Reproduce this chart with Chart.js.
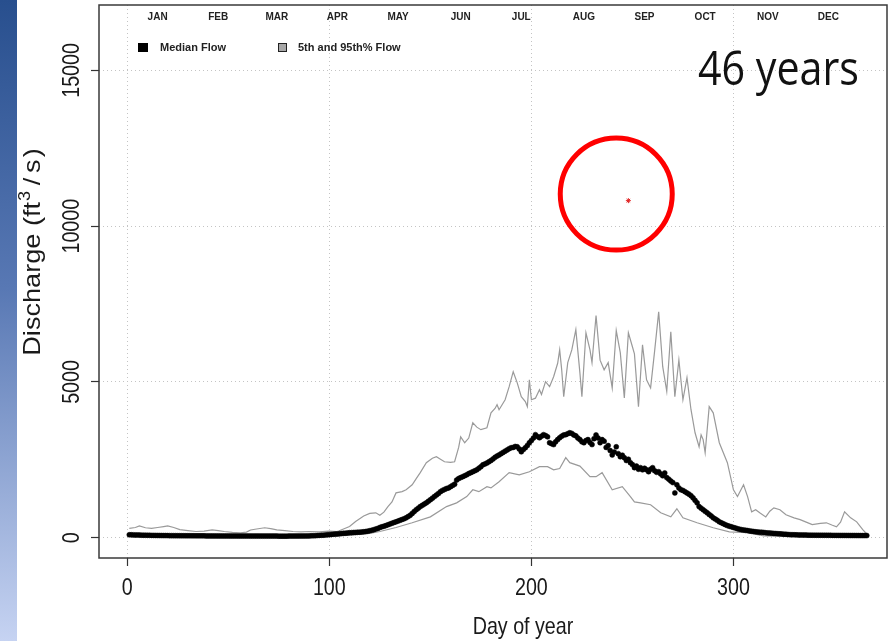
<!DOCTYPE html>
<html lang="en">
<head>
  <meta charset="UTF-8" />
  <title>Daily discharge - 46 years</title>
  <script src="https://cdn.jsdelivr.net/npm/chart.js@4"></script>
  <style>
    html, body { margin: 0; padding: 0; background: #fff; }
    #wrap { width: 896px; height: 641px; }
  </style>
</head>
<body>
<div id="wrap"><canvas id="flowChart" width="896" height="641"></canvas></div>
<script>
// ---- data ----
const monthLabels = ['JAN','FEB','MAR','APR','MAY','JUN','JUL','AUG','SEP','OCT','NOV','DEC'];
const monthMidDays = [15, 45, 74, 104, 134, 165, 195, 226, 256, 286, 317, 347];

const xTickValues = [0, 100, 200, 300];
const yTickValues = [0, 5000, 10000, 15000];

// median flow, one value per day starting at day 1
const firstDay = 1;
const medianFlow = [
  95,94,92,90,88,86,84,82,80,78,77,76,75,74,73,72,71,70,70,69,68,68,67,67,66,66,65,65,64,64,64,
  63,63,62,62,62,61,61,60,60,60,59,59,59,58,58,58,57,57,57,56,56,56,56,55,55,55,55,55,
  55,54,54,54,54,54,53,53,53,53,53,53,53,53,53,52,52,52,52,52,53,53,53,54,54,55,55,56,57,58,60,
  62,65,68,72,76,80,84,88,94,100,106,112,118,124,130,136,142,148,154,160,164,168,172,176,180,185,190,200,212,225,
  240,258,278,300,330,350,370,390,415,440,465,490,510,535,560,585,610,640,680,720,780,840,900,950,1000,1040,1080,1120,1170,1220,1270,
  1320,1370,1420,1480,1520,1550,1580,1600,1640,1680,1720,1850,1900,1930,1960,1990,2020,2060,2090,2120,2150,2180,2230,2280,2340,2370,2400,2440,2480,2530,
  2580,2620,2660,2700,2740,2780,2820,2860,2890,2900,2930,2920,2850,2760,2830,2890,2960,3050,3120,3200,3310,3250,3210,3260,3310,3280,3240,3050,3020,2990,3080,
  3150,3210,3260,3300,3310,3340,3370,3350,3300,3270,3200,3150,3080,3050,3120,3150,3060,2990,3180,3300,3200,3050,3150,3100,2900,2960,2800,2660,2750,2920,2700,
  2600,2650,2570,2480,2520,2410,2350,2250,2300,2200,2250,2180,2230,2180,2120,2200,2250,2150,2100,2120,2050,1990,2080,1930,1880,1820,1770,1440,1700,1600,
  1540,1520,1480,1440,1400,1350,1280,1200,1120,1000,950,900,850,800,750,700,640,600,560,510,480,450,420,390,370,350,330,310,290,275,260,
  250,240,230,220,210,200,190,185,180,175,170,160,155,150,145,140,135,130,125,120,115,110,105,100,98,96,94,92,90,88,
  86,85,84,83,82,81,80,80,79,79,78,78,77,77,76,76,75,75,74,74,74,73,73,72,72,72,71,71,70,70,70,70
];

// 95th percentile flow
const p95Days = [1,4,6,9,12,15,18,20,23,26,30,34,38,42,45,48,52,56,59,61,64,68,71,74,78,82,86,90,95,100,104,107,110,113,117,120,123,125,127,129,131,133,136,138,141,143,145,148,151,153,155,157,160,162,164,165,167,169,171,173,175,178,180,182,183,184,187,189,191,193,195,197,198,199,200,202,204,205,207,209,211,213,214,215,216,218,220,222,224,225,227,229,230,232,234,236,238,240,242,244,246,248,250,251,253,255,257,259,261,263,265,267,269,271,273,275,277,279,281,283,284,285,286,288,290,293,297,300,302,305,307,309,311,313,316,318,320,323,326,330,333,336,339,343,346,349,351,353,355,358,361,364,366];
const p95Flow = [300,330,380,320,300,330,360,380,330,260,230,200,210,250,230,200,170,160,180,250,280,320,290,250,230,200,190,200,190,210,200,280,360,520,700,780,800,720,820,1000,1150,1440,1480,1540,1700,1900,2090,2410,2550,2600,2520,2440,2420,2440,2900,3240,3050,3200,3690,3550,3470,3530,4010,4150,4270,4110,4430,4850,5330,4970,4530,4370,4210,5070,4430,4480,4750,4600,5010,4850,5170,5600,6030,5390,4530,5620,6030,6680,5300,4530,6580,6030,5620,7130,5700,5390,5620,4810,6650,5940,4490,6580,6130,5900,4210,6190,5070,4810,6000,7250,5490,4700,6610,4530,5710,4430,5140,4110,3370,2920,3300,3150,2730,4210,4010,3050,2410,1540,1320,1700,1320,830,900,800,670,850,960,900,740,640,580,500,420,460,480,400,350,500,830,640,510,260,120];

// 5th percentile flow
const p5Days = [1,10,20,30,40,50,60,70,80,90,100,110,120,125,133,141,150,158,163,168,171,174,178,180,184,189,194,199,204,208,211,214,217,219,224,229,232,235,240,245,249,251,254,259,264,269,272,275,282,290,298,307,315,330,345,366];
const p5Flow = [40,42,40,38,36,34,32,30,30,32,45,80,140,200,330,480,670,1000,1120,1320,1540,1480,1640,1600,1800,2090,2020,2120,2280,2280,2180,2220,2570,2410,2300,1960,1960,2090,1540,1640,1320,1150,1120,1060,800,670,930,640,480,320,190,160,60,40,35,30];

// lone value flagged on the chart
const outlierDay = [248];
const outlierFlow = [10820];
const highlightDay = 242, highlightFlow = 11030;

// ---- helpers ----
const AXIS_FONT = '"Liberation Sans", Arial, sans-serif';
const SQUEEZE = 0.82;

function drawText(ctx, str, x, y, o) {
  ctx.save();
  ctx.translate(x, y);
  if (o.rotate) ctx.rotate(-Math.PI / 2);
  ctx.scale(o.squeeze || 1, 1);
  ctx.font = o.font;
  ctx.fillStyle = o.color || '#1a1a1a';
  ctx.textAlign = o.align || 'center';
  ctx.textBaseline = o.baseline || 'middle';
  ctx.fillText(str, 0, 0);
  ctx.restore();
}

// y title drawn piece by piece so the superscript sits right
function drawYTitle(ctx, cx, cy) {
  const big = '24px ' + AXIS_FONT, small = '16px ' + AXIS_FONT;
  const parts = [
    { t: 'Discharge (ft', f: big, dy: 0, gap: 1 },
    { t: '3', f: small, dy: -7, gap: 5 },
    { t: '/', f: big, dy: 0, gap: 4 },
    { t: 's', f: big, dy: 0, gap: 2 },
    { t: ')', f: big, dy: 0, gap: 0 }
  ];
  ctx.save();
  ctx.translate(cx, cy);
  ctx.rotate(-Math.PI / 2);
  ctx.scale(1.13, 1);
  ctx.fillStyle = '#1a1a1a';
  ctx.textBaseline = 'middle';
  ctx.textAlign = 'left';
  let total = 0;
  parts.forEach(p => { ctx.font = p.f; p.w = ctx.measureText(p.t).width; total += p.w + p.gap; });
  let pos = -total / 2;
  parts.forEach(p => { ctx.font = p.f; ctx.fillText(p.t, pos, p.dy); pos += p.w + p.gap; });
  ctx.restore();
}

const decorations = {
  id: 'decorations',
  beforeDraw(chart) {
    const ctx = chart.ctx;
    // slide stripe at the left edge
    const g = ctx.createLinearGradient(0, 0, 0, chart.height);
    g.addColorStop(0, '#284f8e');
    g.addColorStop(0.45, '#5878b4');
    g.addColorStop(1, '#c6d3f2');
    ctx.fillStyle = g;
    ctx.fillRect(0, 0, 17, chart.height);
  },
  afterDraw(chart) {
    const ctx = chart.ctx;
    const area = chart.chartArea;
    const xs = chart.scales.x, ys = chart.scales.y;
    const axisFont = '24px ' + AXIS_FONT;

    // box
    ctx.save();
    ctx.strokeStyle = '#3a3a3a';
    ctx.lineWidth = 1.5;
    ctx.strokeRect(area.left, area.top, area.right - area.left, area.bottom - area.top);
    ctx.restore();

    // tick labels
    xs.ticks.forEach(t => drawText(ctx, String(t.value), xs.getPixelForValue(t.value), 588,
      { font: axisFont, squeeze: SQUEEZE }));
    ys.ticks.forEach(t => drawText(ctx, String(t.value), 72, ys.getPixelForValue(t.value),
      { font: axisFont, squeeze: SQUEEZE, rotate: true }));

    // axis titles
    drawText(ctx, 'Day of year', 523, 627, { font: axisFont, squeeze: SQUEEZE });
    drawYTitle(ctx, 33, 252);

    // month labels inside the top of the plot
    monthLabels.forEach((m, i) => drawText(ctx, m, xs.getPixelForValue(monthMidDays[i]), 17,
      { font: 'bold 10px ' + AXIS_FONT, color: '#222' }));

    // legend
    ctx.save();
    ctx.fillStyle = '#000';
    ctx.fillRect(138, 43, 10, 9);
    ctx.fillStyle = '#a8a8a8';
    ctx.fillRect(278, 43, 9, 9);
    ctx.strokeStyle = '#222';
    ctx.lineWidth = 1;
    ctx.strokeRect(278.5, 43.5, 8, 8);
    ctx.restore();
    drawText(ctx, 'Median Flow', 160, 48, { font: 'bold 11px ' + AXIS_FONT, align: 'left', color: '#222' });
    drawText(ctx, '5th and 95th% Flow', 298, 48, { font: 'bold 11px ' + AXIS_FONT, align: 'left', color: '#222' });

    // "46 years" note
    ctx.save();
    ctx.font = '47px "Open Sans", sans-serif';
    const nw = ctx.measureText('46 years').width;
    ctx.translate(698, 85);
    ctx.scale(161 / nw, 1);
    ctx.fillStyle = '#111';
    ctx.textAlign = 'left';
    ctx.textBaseline = 'alphabetic';
    ctx.fillText('46 years', 0, 0);
    ctx.restore();

    // red ring around the lone value
    ctx.save();
    ctx.strokeStyle = '#ff0000';
    ctx.lineWidth = 5;
    ctx.beginPath();
    ctx.arc(xs.getPixelForValue(highlightDay), ys.getPixelForValue(highlightFlow), 56, 0, Math.PI * 2);
    ctx.stroke();
    ctx.restore();
  }
};

const toPoints = (days, vals) => vals.map((v, i) => ({ x: days[i], y: v }));

new Chart(document.getElementById('flowChart'), {
  type: 'scatter',
  data: {
    datasets: [
      {
        label: 'Median Flow',
        data: medianFlow.map((v, i) => ({ x: firstDay + i, y: v })),
        pointRadius: 2.5,
        pointBackgroundColor: '#000',
        pointBorderColor: '#000',
        pointBorderWidth: 0.5,
        showLine: false
      },
      {
        label: 'Outlier',
        data: toPoints(outlierDay, outlierFlow),
        pointStyle: 'star',
        pointRadius: 2.5,
        pointBorderColor: '#e02020',
        pointBorderWidth: 1,
        showLine: false
      },
      {
        label: '95th',
        data: toPoints(p95Days, p95Flow),
        showLine: true,
        borderColor: '#9a9a9a',
        borderWidth: 1.2,
        pointRadius: 0,
        tension: 0
      },
      {
        label: '5th',
        data: toPoints(p5Days, p5Flow),
        showLine: true,
        borderColor: '#9a9a9a',
        borderWidth: 1.2,
        pointRadius: 0,
        tension: 0
      }
    ]
  },
  options: {
    responsive: false,
    animation: false,
    events: [],
    layout: { padding: { left: 0, top: 5, right: 9, bottom: 0 } },
    plugins: { legend: { display: false }, tooltip: { enabled: false } },
    scales: {
      x: {
        type: 'linear',
        min: -14,
        max: 376,
        afterBuildTicks: s => { s.ticks = xTickValues.map(v => ({ value: v })); },
        afterFit: s => { s.height = 83; },
        ticks: { display: false },
        border: { display: false, dash: [1, 3] },
        grid: { color: '#c4c4c4', lineWidth: 1, tickLength: 8, tickColor: '#333', tickWidth: 1.2 }
      },
      y: {
        type: 'linear',
        min: -650,
        max: 17100,
        afterBuildTicks: s => { s.ticks = yTickValues.map(v => ({ value: v })); },
        afterFit: s => { s.width = 99; },
        ticks: { display: false },
        border: { display: false, dash: [1, 3] },
        grid: { color: '#c4c4c4', lineWidth: 1, tickLength: 8, tickColor: '#333', tickWidth: 1.2 }
      }
    }
  },
  plugins: [decorations]
});
</script>
</body>
</html>
